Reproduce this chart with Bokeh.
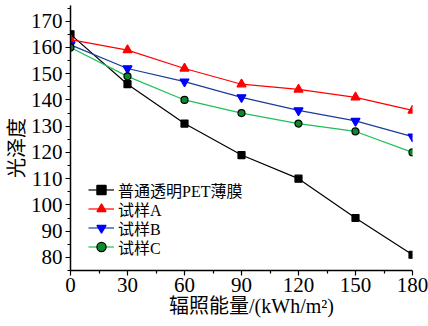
from bokeh.plotting import figure
from bokeh.models import Range1d, Legend, LegendItem, FixedTicker
from bokeh.embed import file_html
from bokeh.resources import INLINE

x = [0, 30, 60, 90, 120, 150, 180]
pet = [165, 146, 131, 119, 110, 95, 81]
sample_a = [163, 159, 152, 146, 144, 141, 136]
sample_b = [161, 152, 147, 141, 136, 132, 126]
sample_c = [160, 149, 140, 135, 131, 128, 120]
names = ["普通透明PET薄膜", "试样A", "试样B", "试样C"]
x_ticks = [0, 30, 60, 90, 120, 150, 180]
y_ticks = [80, 90, 100, 110, 120, 130, 140, 150, 160, 170]

FONT = "Liberation Serif, Noto Sans CJK SC"

p = figure(width=428, height=326, output_backend="svg", toolbar_location=None,
           x_range=Range1d(0, 180), y_range=Range1d(75, 176),
           min_border_left=70, min_border_right=16, min_border_top=5, min_border_bottom=56)
p.outline_line_color = None
p.grid.visible = False
p.background_fill_color = "white"

for ax in (p.xaxis[0], p.yaxis[0]):
    ax.axis_line_color = "black"
    ax.axis_line_width = 1.5
    ax.major_tick_line_color = "black"
    ax.minor_tick_line_color = "black"
    ax.major_tick_line_width = 1.2
    ax.minor_tick_line_width = 1.2
    ax.major_tick_out = 5
    ax.major_tick_in = 0
    ax.minor_tick_out = 3
    ax.minor_tick_in = 0
    ax.major_label_text_font = "Liberation Serif"
    ax.major_label_text_font_size = "21px"
    ax.major_label_text_color = "black"
    ax.axis_label_text_font = FONT
    ax.axis_label_text_font_size = "20px"
    ax.axis_label_text_font_style = "normal"
    ax.axis_label_text_color = "black"

p.xaxis[0].ticker = FixedTicker(ticks=x_ticks, minor_ticks=[15, 45, 75, 105, 135, 165])
p.yaxis[0].ticker = FixedTicker(ticks=y_ticks, minor_ticks=[75, 85, 95, 105, 115, 125, 135, 145, 155, 165, 175])
p.xaxis[0].axis_label = "\u3000辐照能量/(kWh/m²)"
p.yaxis[0].axis_label = "光泽度\u3000"
p.xaxis[0].major_label_standoff = 2
p.yaxis[0].major_label_standoff = 3
p.xaxis[0].axis_label_standoff = 0
p.yaxis[0].axis_label_standoff = 0

line_colors = ["black", "#FF0000", "#1A3C9A", "#1FBF5A"]
series = [pet, sample_a, sample_b, sample_c]
markers = ["square", "triangle", "inverted_triangle", "circle"]
m_fill = ["black", "#FF0000", "#0000FF", "#0A8A2A"]
m_line = ["black", "#FF0000", "#0000FF", "black"]
m_size = [7, 9, 9, 7]
legend_rows_y = [68.5, 49.5, 30.5, 11.5]

for i in range(4):
    rl = p.line(x, series[i], line_color=line_colors[i], line_width=1.2)
    rm = p.scatter(x, series[i], marker=markers[i], size=m_size[i],
                   fill_color=m_fill[i], line_color=m_line[i], line_width=1.2)
    lg = Legend(items=[LegendItem(label=names[i], renderers=[rl, rm])],
                location=(18, legend_rows_y[i]))
    lg.border_line_color = None
    lg.background_fill_alpha = 0
    lg.label_text_font = FONT
    lg.label_text_font_size = "16px"
    lg.label_text_color = "black"
    lg.glyph_width = 26
    lg.glyph_height = 23
    lg.label_height = 19
    lg.label_standoff = 4
    lg.spacing = 0
    lg.padding = 2
    lg.margin = 0
    p.add_layout(lg, "center")

open("out.html", "w").write(file_html(p, INLINE))
